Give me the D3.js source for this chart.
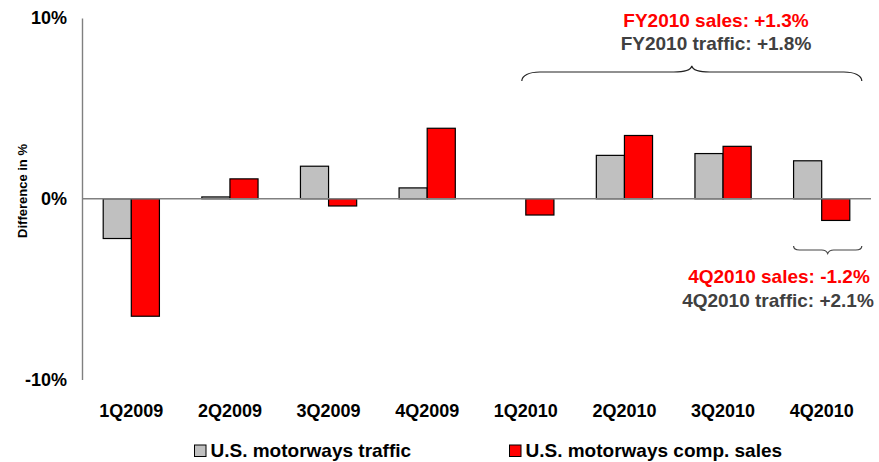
<!DOCTYPE html>
<html>
<head>
<meta charset="utf-8">
<script src="https://cdn.jsdelivr.net/npm/d3@7"></script>
<style>
  html, body { margin: 0; padding: 0; background: #fff; }
  svg { display: block; font-family: 'Liberation Sans', Arial, sans-serif; font-weight: bold; }
</style>
</head>
<body>
<svg id="chart" width="879" height="462"></svg>
<script>
const categories = ["1Q2009", "2Q2009", "3Q2009", "4Q2009", "1Q2010", "2Q2010", "3Q2010", "4Q2010"];
const trafficValues = [-2.2, 0.1, 1.8, 0.6, 0.0, 2.4, 2.5, 2.1];
const salesValues = [-6.5, 1.1, -0.4, 3.9, -0.9, 3.5, 2.9, -1.2];
const seriesNames = ["U.S. motorways traffic", "U.S. motorways comp. sales"];
const seriesColors = ["#C0C0C0", "#FF0000"];
const yTicks = [-10, 0, 10];
const yAxisTitle = "Difference in %";
const fyNotes = ["FY2010 sales: +1.3%", "FY2010 traffic: +1.8%"];
const q4Notes = ["4Q2010 sales: -1.2%", "4Q2010 traffic: +2.1%"];
const noteColors = ["#FF0000", "#404040"];

const svg = d3.select("#chart");
const plotLeft = 82, plotRight = 871, plotTop = 18, plotBottom = 379.5;

const x = d3.scaleBand().domain(categories).range([plotLeft, plotRight]).paddingInner(0.43).paddingOuter(0.215);
const xs = d3.scaleBand().domain([0, 1]).range([0, x.bandwidth()]);
const y = d3.scaleLinear().domain([-10, 10]).range([plotBottom, plotTop]);

// bars
const rows = categories.map((c, i) => ({c, vals: [trafficValues[i], salesValues[i]]}));
const groups = svg.append("g").selectAll("g").data(rows).join("g")
  .attr("transform", d => `translate(${x(d.c)},0)`);
groups.selectAll("rect").data(d => d.vals.map((v, k) => ({v, k}))).join("rect")
  .attr("x", d => xs(d.k))
  .attr("width", xs.bandwidth())
  .attr("y", d => y(Math.max(0, d.v)))
  .attr("height", d => Math.abs(y(d.v) - y(0)))
  .attr("fill", d => seriesColors[d.k])
  .attr("stroke", "#000")
  .attr("stroke-width", 1.2);

// zero line
svg.append("line").attr("x1", plotLeft).attr("x2", plotRight).attr("y1", y(0)).attr("y2", y(0))
  .attr("stroke", "#808080").attr("stroke-width", 1.6);

// y axis
const yAxis = d3.axisLeft(y).tickValues(yTicks).tickSize(0).tickPadding(15).tickFormat(d => d + "%");
const ya = svg.append("g").attr("transform", `translate(${plotLeft},0)`).call(yAxis);
ya.select(".domain").attr("stroke", "#808080").attr("stroke-width", 1.4);
ya.selectAll("text").attr("font-size", 18).attr("font-family", "'Liberation Sans', Arial, sans-serif")
  .attr("font-weight", "bold").attr("fill", "#000");

// y title
svg.append("text").attr("transform", "translate(26.5,191) rotate(-90)")
  .attr("text-anchor", "middle").attr("font-size", 13).attr("fill", "#000").text(yAxisTitle);

// x labels
const xAxis = d3.axisBottom(x).tickSize(0).tickPadding(0);
const xa = svg.append("g").attr("transform", `translate(0,${plotBottom})`).call(xAxis);
xa.select(".domain").remove();
xa.selectAll("text").attr("dy", null).attr("y", 37.2).attr("font-size", 18)
  .attr("font-family", "'Liberation Sans', Arial, sans-serif").attr("font-weight", "bold").attr("fill", "#000");

// legend
const legendX = [194.5, 509.5];
const lg = svg.append("g").selectAll("g").data(seriesNames).join("g")
  .attr("transform", (d, i) => `translate(${legendX[i]},445)`);
lg.append("rect").attr("width", 11.5).attr("height", 11.5)
  .attr("fill", (d, i) => seriesColors[i]).attr("stroke", "#000").attr("stroke-width", 1);
lg.append("text").attr("x", 16).attr("y", 12.3).attr("font-size", 19).attr("fill", "#000").text(d => d);

// braces
function brace(x1, x2, yEnd, yMid, yTip, r) {
  const xm = (x1 + x2) / 2;
  const s = Math.sign(yMid - yEnd);
  return `M${x1},${yEnd} C${x1},${yEnd + s*Math.abs(yMid-yEnd)*0.6} ${x1 + r*0.4},${yMid} ${x1 + r},${yMid}` +
    ` L${xm - r},${yMid} C${xm - r*0.35},${yMid} ${xm - 1},${yMid + (yTip-yMid)*0.3} ${xm},${yTip}` +
    ` C${xm + 1},${yMid + (yTip-yMid)*0.3} ${xm + r*0.35},${yMid} ${xm + r},${yMid}` +
    ` L${x2 - r},${yMid} C${x2 - r*0.4},${yMid} ${x2},${yEnd + s*Math.abs(yMid-yEnd)*0.6} ${x2},${yEnd}`;
}
const bx1 = x("1Q2010") + xs(1) - 4;
const bx2 = x("4Q2010") + x.bandwidth() + 12;
svg.append("path").attr("d", brace(bx1, bx2, 81, 72, 66, 18))
  .attr("fill", "none").attr("stroke", "#222").attr("stroke-width", 1.2);
const sx1 = x("4Q2010");
svg.append("path").attr("d", brace(sx1, bx2, 246, 250, 253.5, 6))
  .attr("fill", "none").attr("stroke", "#444").attr("stroke-width", 1.2);

// notes
svg.append("g").selectAll("text").data(fyNotes).join("text")
  .attr("x", 716).attr("y", (d, i) => 27 + i * 23.3)
  .attr("text-anchor", "middle").attr("font-size", 19)
  .attr("fill", (d, i) => noteColors[i]).text(d => d);
svg.append("g").selectAll("text").data(q4Notes).join("text")
  .attr("x", (d, i) => [779, 778][i]).attr("y", (d, i) => 283.3 + i * 23.4)
  .attr("text-anchor", "middle").attr("font-size", 19)
  .attr("fill", (d, i) => noteColors[i]).text(d => d);
</script>
</body>
</html>
